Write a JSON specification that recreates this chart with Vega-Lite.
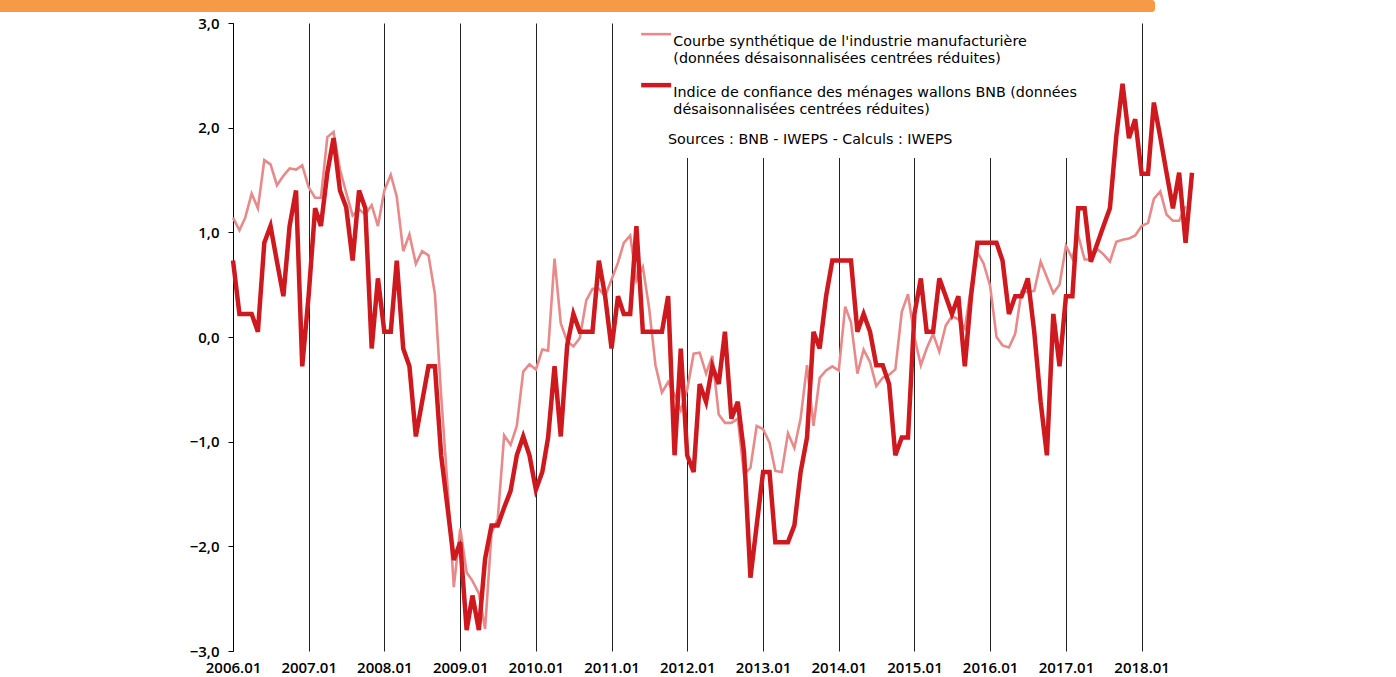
{
  "$schema": "https://vega.github.io/schema/vega-lite/v6.json",
  "padding": 0,
  "background": "white",
  "spacing": 4,
  "config": {"view": {"stroke": null}, "font": "Open Sans"},
  "vconcat": [
    {
      "width": 1155,
      "height": 12,
      "data": {"values": [{}]},
      "mark": {"type": "rect", "color": "#F79A45", "cornerRadiusBottomRight": 3, "cornerRadiusTopRight": 3},
      "encoding": {}
    },
    {
      "width": 1192,
      "height": 628,
      "data": {"values": [
        {"d":"2006/01/01","c":1.14,"i":0.73},{"d":"2006/02/01","c":1.02,"i":0.22},{"d":"2006/03/01","c":1.14,"i":0.22},{"d":"2006/04/01","c":1.37,"i":0.22},{"d":"2006/05/01","c":1.23,"i":0.05},{"d":"2006/06/01","c":1.69,"i":0.90},{"d":"2006/07/01","c":1.65,"i":1.06},{"d":"2006/08/01","c":1.45,"i":0.72},{"d":"2006/09/01","c":1.54,"i":0.39},{"d":"2006/10/01","c":1.61,"i":1.06},{"d":"2006/11/01","c":1.60,"i":1.40},{"d":"2006/12/01","c":1.64,"i":-0.28},
        {"d":"2007/01/01","c":1.43,"i":0.40},{"d":"2007/02/01","c":1.33,"i":1.23},{"d":"2007/03/01","c":1.33,"i":1.06},{"d":"2007/04/01","c":1.91,"i":1.57},{"d":"2007/05/01","c":1.96,"i":1.90},{"d":"2007/06/01","c":1.60,"i":1.40},{"d":"2007/07/01","c":1.38,"i":1.24},{"d":"2007/08/01","c":1.16,"i":0.73},{"d":"2007/09/01","c":1.22,"i":1.40},{"d":"2007/10/01","c":1.17,"i":1.23},{"d":"2007/11/01","c":1.26,"i":-0.11},{"d":"2007/12/01","c":1.06,"i":0.56},
        {"d":"2008/01/01","c":1.40,"i":0.05},{"d":"2008/02/01","c":1.55,"i":0.05},{"d":"2008/03/01","c":1.34,"i":0.73},{"d":"2008/04/01","c":0.82,"i":-0.11},{"d":"2008/05/01","c":0.98,"i":-0.28},{"d":"2008/06/01","c":0.70,"i":-0.95},{"d":"2008/07/01","c":0.82,"i":-0.62},{"d":"2008/08/01","c":0.78,"i":-0.28},{"d":"2008/09/01","c":0.41,"i":-0.28},{"d":"2008/10/01","c":-0.56,"i":-1.13},{"d":"2008/11/01","c":-1.43,"i":-1.63},{"d":"2008/12/01","c":-2.39,"i":-2.13},
        {"d":"2009/01/01","c":-1.83,"i":-1.96},{"d":"2009/02/01","c":-2.25,"i":-2.80},{"d":"2009/03/01","c":-2.33,"i":-2.47},{"d":"2009/04/01","c":-2.45,"i":-2.80},{"d":"2009/05/01","c":-2.79,"i":-2.12},{"d":"2009/06/01","c":-1.87,"i":-1.80},{"d":"2009/07/01","c":-1.74,"i":-1.80},{"d":"2009/08/01","c":-0.94,"i":-1.63},{"d":"2009/09/01","c":-1.03,"i":-1.47},{"d":"2009/10/01","c":-0.85,"i":-1.13},{"d":"2009/11/01","c":-0.33,"i":-0.95},{"d":"2009/12/01","c":-0.26,"i":-1.13},
        {"d":"2010/01/01","c":-0.31,"i":-1.46},{"d":"2010/02/01","c":-0.12,"i":-1.29},{"d":"2010/03/01","c":-0.13,"i":-0.96},{"d":"2010/04/01","c":0.75,"i":-0.28},{"d":"2010/05/01","c":0.13,"i":-0.95},{"d":"2010/06/01","c":-0.04,"i":-0.08},{"d":"2010/07/01","c":-0.09,"i":0.22},{"d":"2010/08/01","c":-0.01,"i":0.05},{"d":"2010/09/01","c":0.35,"i":0.05},{"d":"2010/10/01","c":0.46,"i":0.05},{"d":"2010/11/01","c":0.46,"i":0.73},{"d":"2010/12/01","c":0.39,"i":0.39},
        {"d":"2011/01/01","c":0.55,"i":-0.11},{"d":"2011/02/01","c":0.71,"i":0.39},{"d":"2011/03/01","c":0.90,"i":0.22},{"d":"2011/04/01","c":0.97,"i":0.22},{"d":"2011/05/01","c":0.54,"i":1.06},{"d":"2011/06/01","c":0.67,"i":0.05},{"d":"2011/07/01","c":0.28,"i":0.05},{"d":"2011/08/01","c":-0.27,"i":0.05},{"d":"2011/09/01","c":-0.53,"i":0.05},{"d":"2011/10/01","c":-0.43,"i":0.39},{"d":"2011/11/01","c":-0.55,"i":-1.13},{"d":"2011/12/01","c":-0.70,"i":-0.11},
        {"d":"2012/01/01","c":-0.50,"i":-1.13},{"d":"2012/02/01","c":-0.16,"i":-1.29},{"d":"2012/03/01","c":-0.15,"i":-0.45},{"d":"2012/04/01","c":-0.35,"i":-0.62},{"d":"2012/05/01","c":-0.18,"i":-0.28},{"d":"2012/06/01","c":-0.74,"i":-0.45},{"d":"2012/07/01","c":-0.82,"i":0.05},{"d":"2012/08/01","c":-0.82,"i":-0.78},{"d":"2012/09/01","c":-0.78,"i":-0.62},{"d":"2012/10/01","c":-1.31,"i":-1.10},{"d":"2012/11/01","c":-1.25,"i":-2.30},{"d":"2012/12/01","c":-0.85,"i":-1.80},
        {"d":"2013/01/01","c":-0.88,"i":-1.29},{"d":"2013/02/01","c":-1.01,"i":-1.29},{"d":"2013/03/01","c":-1.28,"i":-1.96},{"d":"2013/04/01","c":-1.29,"i":-1.96},{"d":"2013/05/01","c":-0.92,"i":-1.96},{"d":"2013/06/01","c":-1.06,"i":-1.80},{"d":"2013/07/01","c":-0.78,"i":-1.29},{"d":"2013/08/01","c":-0.27,"i":-0.96},{"d":"2013/09/01","c":-0.85,"i":0.05},{"d":"2013/10/01","c":-0.39,"i":-0.11},{"d":"2013/11/01","c":-0.32,"i":0.39},{"d":"2013/12/01","c":-0.28,"i":0.73},
        {"d":"2014/01/01","c":-0.32,"i":0.73},{"d":"2014/02/01","c":0.29,"i":0.73},{"d":"2014/03/01","c":0.14,"i":0.73},{"d":"2014/04/01","c":-0.35,"i":0.05},{"d":"2014/05/01","c":-0.12,"i":0.22},{"d":"2014/06/01","c":-0.24,"i":0.05},{"d":"2014/07/01","c":-0.47,"i":-0.27},{"d":"2014/08/01","c":-0.39,"i":-0.27},{"d":"2014/09/01","c":-0.36,"i":-0.45},{"d":"2014/10/01","c":-0.31,"i":-1.13},{"d":"2014/11/01","c":0.24,"i":-0.96},{"d":"2014/12/01","c":0.41,"i":-0.96},
        {"d":"2015/01/01","c":0.00,"i":0.22},{"d":"2015/02/01","c":-0.27,"i":0.56},{"d":"2015/03/01","c":-0.11,"i":0.05},{"d":"2015/04/01","c":0.03,"i":0.05},{"d":"2015/05/01","c":-0.14,"i":0.56},{"d":"2015/06/01","c":0.11,"i":0.39},{"d":"2015/07/01","c":0.20,"i":0.22},{"d":"2015/08/01","c":0.17,"i":0.39},{"d":"2015/09/01","c":0.08,"i":-0.28},{"d":"2015/10/01","c":0.47,"i":0.39},{"d":"2015/11/01","c":0.81,"i":0.90},{"d":"2015/12/01","c":0.70,"i":0.90},
        {"d":"2016/01/01","c":0.49,"i":0.90},{"d":"2016/02/01","c":0.00,"i":0.90},{"d":"2016/03/01","c":-0.08,"i":0.73},{"d":"2016/04/01","c":-0.10,"i":0.22},{"d":"2016/05/01","c":0.03,"i":0.39},{"d":"2016/06/01","c":0.44,"i":0.39},{"d":"2016/07/01","c":0.43,"i":0.56},{"d":"2016/08/01","c":0.44,"i":0.05},{"d":"2016/09/01","c":0.72,"i":-0.62},{"d":"2016/10/01","c":0.57,"i":-1.13},{"d":"2016/11/01","c":0.42,"i":0.22},{"d":"2016/12/01","c":0.50,"i":-0.28},
        {"d":"2017/01/01","c":0.87,"i":0.39},{"d":"2017/02/01","c":0.75,"i":0.39},{"d":"2017/03/01","c":0.97,"i":1.23},{"d":"2017/04/01","c":0.74,"i":1.23},{"d":"2017/05/01","c":0.74,"i":0.72},{"d":"2017/06/01","c":0.84,"i":0.89},{"d":"2017/07/01","c":0.79,"i":1.06},{"d":"2017/08/01","c":0.72,"i":1.23},{"d":"2017/09/01","c":0.91,"i":1.92},{"d":"2017/10/01","c":0.93,"i":2.42},{"d":"2017/11/01","c":0.94,"i":1.90},{"d":"2017/12/01","c":0.97,"i":2.08},
        {"d":"2018/01/01","c":1.06,"i":1.56},{"d":"2018/02/01","c":1.09,"i":1.56},{"d":"2018/03/01","c":1.32,"i":2.24},{"d":"2018/04/01","c":1.39,"i":1.91},{"d":"2018/05/01","c":1.17,"i":1.57},{"d":"2018/06/01","c":1.11,"i":1.23},{"d":"2018/07/01","c":1.11,"i":1.57},{"d":"2018/08/01","c":1.25,"i":0.90},{"d":"2018/09/01","c":null,"i":1.57}
      ]},
      "transform": [{"fold": ["c", "i"], "as": ["serie", "v"]}],
      "encoding": {
        "x": {
          "field": "d", "type": "temporal",
          "scale": {"domain": [{"year": 2002, "month": 12, "date": 4}, {"year": 2018, "month": 9, "date": 1}], "nice": false},
          "axis": {
            "title": null, "format": "%Y.%m",
            "values": [
              {"year": 2006, "month": 1, "date": 1}, {"year": 2007, "month": 1, "date": 1}, {"year": 2008, "month": 1, "date": 1},
              {"year": 2009, "month": 1, "date": 1}, {"year": 2010, "month": 1, "date": 1}, {"year": 2011, "month": 1, "date": 1},
              {"year": 2012, "month": 1, "date": 1}, {"year": 2013, "month": 1, "date": 1}, {"year": 2014, "month": 1, "date": 1},
              {"year": 2015, "month": 1, "date": 1}, {"year": 2016, "month": 1, "date": 1}, {"year": 2017, "month": 1, "date": 1},
              {"year": 2018, "month": 1, "date": 1}
            ],
            "domain": false, "ticks": false, "grid": true, "gridColor": "#222222", "gridWidth": 1, "gridOpacity": 1,
            "labelFontSize": 15, "labelFontWeight": 600, "labelColor": "#000000", "labelPadding": 9, "labelFlush": false, "labelOverlap": false
          }
        },
        "y": {
          "field": "v", "type": "quantitative",
          "scale": {"domain": [-3, 3], "nice": false},
          "axis": {
            "title": null, "values": [-3, -2, -1, 0, 1, 2, 3], "offset": -233,
            "labelExpr": "replace(format(datum.value, '.1f'), '.', ',')",
            "grid": false, "domainColor": "#000000", "domainWidth": 1, "tickColor": "#000000", "tickSize": 5,
            "labelFontSize": 15, "labelFontWeight": 600, "labelColor": "#000000", "labelPadding": 9
          }
        }
      },
      "layer": [
        {
          "mark": {"type": "line", "strokeWidth": 2.6},
          "transform": [{"filter": "datum.serie === 'c'"}],
          "encoding": {
            "color": {
              "field": "serie", "type": "nominal",
              "scale": {"domain": ["c", "i"], "range": ["#E98A8A", "#CE1A1F"]},
              "legend": {
                "orient": "none", "legendX": 639, "legendY": 17, "fillColor": "white", "padding": 10,
                "symbolType": "stroke", "symbolSize": 900, "symbolStrokeWidth": 3,
                "labelFont": "DejaVu Sans", "labelFontSize": 14.3, "labelFontWeight": "normal", "labelColor": "#000000", "labelLimit": 0, "labelOffset": 10,
                "rowPadding": 9,
                "labelExpr": "datum.value === 'c' ? [\"Courbe synthétique de l'industrie manufacturière\", \"(données désaisonnalisées centrées réduites)\"] : [\"Indice de confiance des ménages wallons BNB (données\", \"désaisonnalisées centrées réduites)\"]",
                "title": "Sources : BNB - IWEPS - Calculs : IWEPS",
                "titleLimit": 0,
                "titleOrient": "bottom", "titleAnchor": "start", "titleFont": "DejaVu Sans", "titleFontSize": 14.3, "titleFontWeight": "normal", "titleColor": "#000000", "titlePadding": 16,
                "encode": {
                  "symbols": {"update": {"strokeWidth": {"signal": "datum.value === 'c' ? 2.6 : 4.5"}}},
                  "labels": {"update": {"dy": {"value": 8}, "lineHeight": {"value": 17}}},
                  "title": {"update": {"dx": {"value": 19}}}
                }
              }
            }
          }
        },
        {
          "mark": {"type": "line", "strokeWidth": 4.5},
          "transform": [{"filter": "datum.serie === 'i'"}],
          "encoding": {
            "color": {"field": "serie", "type": "nominal"}
          }
        },
        {
          "data": {"values": [{}]},
          "mark": {"type": "rule", "color": "#000000", "strokeWidth": 1},
          "encoding": {
            "y": {"datum": 0},
            "x": {"datum": {"year": 2006, "month": 1, "date": 1}},
            "x2": {"datum": {"year": 2018, "month": 9, "date": 1}}
          }
        }
      ]
    }
  ]
}
